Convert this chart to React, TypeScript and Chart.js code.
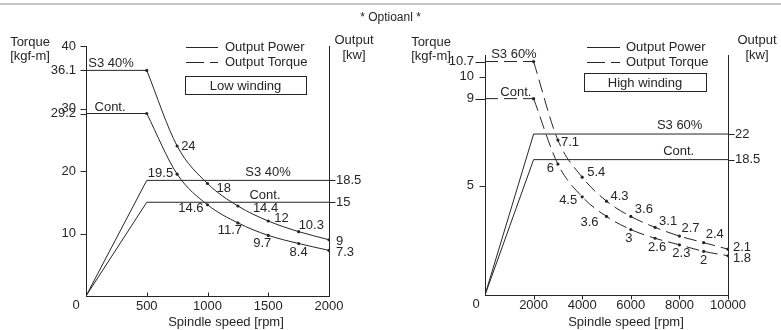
import React, { useEffect, useRef } from "react";
import { Chart, registerables } from "chart.js";

Chart.register(...registerables);

const FAMILY = '"Liberation Sans", Arial, Helvetica, sans-serif';
const INK = "#262626";

// ---------- Low winding (left panel) ----------
const lowSpeeds = [500, 750, 1000, 1250, 1500, 1750, 2000];
const lowTorqueS3 = [36.1, 24, 18, 14.4, 12, 10.3, 9];
const lowTorqueCont = [29.2, 19.5, 14.6, 11.7, 9.7, 8.4, 7.3];
const lowPowerSpeeds = [0, 500, 2000];
const lowPowerS3 = [0, 18.5, 18.5];
const lowPowerCont = [0, 15, 15];
const lowXTicks = [500, 1000, 1500, 2000];
const lowTorqueTicks = [10, 20, 29.2, 30, 36.1, 40];
const lowPowerTicks = [15, 18.5];

// ---------- High winding (right panel) ----------
const highSpeeds = [2000, 3000, 4000, 5000, 6000, 7000, 8000, 9000, 10000];
const highTorqueS3 = [10.7, 7.1, 5.4, 4.3, 3.6, 3.1, 2.7, 2.4, 2.1];
const highTorqueCont = [9, 6, 4.5, 3.6, 3, 2.6, 2.3, 2, 1.8];
const highPowerSpeeds = [0, 2000, 10000];
const highPowerS3 = [0, 22, 22];
const highPowerCont = [0, 18.5, 18.5];
const highXTicks = [2000, 4000, 6000, 8000, 10000];
const highTorqueTicks = [5, 9, 10, 10.7];
const highPowerTicks = [18.5, 22];

// ---------- label placement (align, dx, dy in px from the point) ----------
type Place = [string, number, number] | null;
const lowS3Places: Place[] = [null, ["l", 4, 0], ["l", 9, 5], ["l", 15, 2], ["l", 6, -3], ["l", 0, -6], ["l", 7, 2]];
const lowContPlaces: Place[] = [null, ["r", -4, -1], ["r", -4, 4], ["c", -8, 8], ["c", -6, 8], ["c", 0, 9], ["l", 7, 2]];
const highS3Places: Place[] = [null, ["l", 3, 2], ["l", 5, -5], ["l", 4, -5], ["l", 4, -7], ["l", 4, -6], ["l", 2, -8], ["l", 2, -8], ["l", 5, -2]];
const highContPlaces: Place[] = [null, ["r", -4, 4], ["r", -5, 4], ["r", -8, 6], ["c", -2, 9], ["c", 2, 9], ["c", 2, 9], ["c", 0, 9], ["l", 5, 3]];

interface TorqueSeries { values: number[]; places: Place[]; name: string; nameAt: number; nameDy: number }
interface PowerSeries { values: number[]; name: string; nameAt: number; nameDy: number }
interface Panel {
  w: number; h: number;
  area: { left: number; right: number; top: number; bottom: number };
  xMax: number; yMax: number; y2Max: number;
  xTicks: number[]; yTicks: number[]; y2Ticks: number[];
  longTicks: number[]; yPad: number; xTickDir: number;
  speeds: number[]; torque: TorqueSeries[]; torqueDash: number[];
  powerSpeeds: number[]; power: PowerSeries[];
  torqueTitleX: number; outputTitleX: number; xTitleX: number; originX: number;
  legend: { x1: number; x2: number; tx: number; y1: number; y2: number; box: [number, number, number, number]; text: string };
}

const lowPanel: Panel = {
  w: 390, h: 330,
  area: { left: 86, right: 329, top: 46, bottom: 296 },
  xMax: 2000, yMax: 40, y2Max: 40,
  xTicks: lowXTicks, yTicks: lowTorqueTicks, y2Ticks: lowPowerTicks,
  longTicks: [], yPad: 10, xTickDir: -1,
  speeds: lowSpeeds,
  torque: [
    { values: lowTorqueS3, places: lowS3Places, name: "S3 40%", nameAt: 206, nameDy: -7 },
    { values: lowTorqueCont, places: lowContPlaces, name: "Cont.", nameAt: 198, nameDy: -6 },
  ],
  torqueDash: [],
  powerSpeeds: lowPowerSpeeds,
  power: [
    { values: lowPowerS3, name: "S3 40%", nameAt: 1498, nameDy: -8 },
    { values: lowPowerCont, name: "Cont.", nameAt: 1473, nameDy: -7 },
  ],
  torqueTitleX: 30, outputTitleX: 354, xTitleX: 226, originX: 76,
  legend: { x1: 186, x2: 218, tx: 225, y1: 47, y2: 62, box: [185, 76, 306, 94], text: "Low winding" },
};

const highPanel: Panel = {
  w: 391, h: 330,
  area: { left: 95, right: 338, top: 55, bottom: 295 },
  xMax: 10000, yMax: 11, y2Max: 32.8,
  xTicks: highXTicks, yTicks: highTorqueTicks, y2Ticks: highPowerTicks,
  longTicks: [9, 10.7], yPad: 11, xTickDir: 1,
  speeds: highSpeeds,
  torque: [
    { values: highTorqueS3, places: highS3Places, name: "S3 60%", nameAt: 1190, nameDy: -7 },
    { values: highTorqueCont, places: highContPlaces, name: "Cont.", nameAt: 1270, nameDy: -6 },
  ],
  torqueDash: [13, 6],
  powerSpeeds: highPowerSpeeds,
  power: [
    { values: highPowerS3, name: "S3 60%", nameAt: 8010, nameDy: -9 },
    { values: highPowerCont, name: "Cont.", nameAt: 7970, nameDy: -8 },
  ],
  torqueTitleX: 41, outputTitleX: 367, xTitleX: 236, originX: 86,
  legend: { x1: 197, x2: 230, tx: 236, y1: 47, y2: 62, box: [194, 73, 316, 91], text: "High winding" },
};

function overlay(p: Panel) {
  return {
    id: "overlay",
    afterDraw(chart: any) {
      const ctx: CanvasRenderingContext2D = chart.ctx;
      const a = chart.chartArea;
      const sx = chart.scales.x, sy = chart.scales.y, sy2 = chart.scales.y2;
      const px = (v: number) => sx.getPixelForValue(v);
      const line = (x1: number, y1: number, x2: number, y2: number) => {
        ctx.beginPath(); ctx.moveTo(x1, y1); ctx.lineTo(x2, y2); ctx.stroke();
      };
      const text = (s: string, x: number, y: number, align: CanvasTextAlign = "center") => {
        ctx.textAlign = align; ctx.fillText(s, x, y);
      };
      ctx.save();
      ctx.strokeStyle = INK; ctx.fillStyle = INK; ctx.lineWidth = 1;
      ctx.font = `13px ${FAMILY}`; ctx.textBaseline = "middle";
      const L = Math.round(a.left) + 0.5, R = Math.round(a.right) + 0.5, B = Math.round(a.bottom) + 0.5;
      // tick marks
      p.yTicks.forEach((v) => {
        const yy = Math.round(sy.getPixelForValue(v)) + 0.5;
        const len = p.longTicks.includes(v) ? 10 : 6;
        line(L - len, yy, L, yy);
      });
      p.y2Ticks.forEach((v) => {
        const yy = Math.round(sy2.getPixelForValue(v)) + 0.5;
        line(R, yy, R + 6, yy);
      });
      p.xTicks.forEach((v) => {
        const xx = Math.round(px(v)) + 0.5;
        line(xx, B, xx, B + p.xTickDir * 4);
      });
      // series names on the flat parts
      p.torque.forEach((s) => text(s.name, px(s.nameAt), sy.getPixelForValue(s.values[0]) + s.nameDy));
      p.power.forEach((s) => text(s.name, px(s.nameAt), sy2.getPixelForValue(s.values[s.values.length - 1]) + s.nameDy));
      // value labels
      p.torque.forEach((s) => s.values.forEach((v, i) => {
        const pl = s.places[i];
        if (!pl) return;
        const [al, dx, dy] = pl;
        text(String(v), px(p.speeds[i]) + dx, sy.getPixelForValue(v) + dy, al === "l" ? "left" : al === "r" ? "right" : "center");
      }));
      // axis titles
      text("0", p.originX, B + 9);
      text("Torque", p.torqueTitleX, 42);
      text("[kgf-m]", p.torqueTitleX, 56);
      text("Output", p.outputTitleX, 40);
      text("[kw]", p.outputTitleX, 55);
      text("Spindle speed [rpm]", p.xTitleX, 322);
      // legend
      const lg = p.legend;
      line(lg.x1, lg.y1 + 0.5, lg.x2, lg.y1 + 0.5);
      ctx.setLineDash([18, 6]);
      line(lg.x1, lg.y2 + 0.5, lg.x2, lg.y2 + 0.5);
      ctx.setLineDash([]);
      text("Output Power", lg.tx, lg.y1, "left");
      text("Output Torque", lg.tx, lg.y2, "left");
      const [bx1, by1, bx2, by2] = lg.box;
      ctx.strokeRect(bx1 + 0.5, by1 + 0.5, bx2 - bx1, by2 - by1);
      text(lg.text, (bx1 + bx2) / 2, (by1 + by2) / 2 + 1);
      ctx.restore();
    },
  };
}

function buildConfig(p: Panel): any {
  const font = { family: FAMILY, size: 13 };
  const datasets: any[] = [];
  p.power.forEach((s) =>
    datasets.push({
      data: p.powerSpeeds.map((x, i) => ({ x, y: s.values[i] })),
      yAxisID: "y2", borderColor: INK, borderWidth: 1, pointRadius: 0, tension: 0, fill: false,
    })
  );
  p.torque.forEach((s) => {
    datasets.push({
      data: [{ x: 0, y: s.values[0] }, { x: p.speeds[0], y: s.values[0] }],
      yAxisID: "y", borderColor: INK, borderWidth: 1, borderDash: p.torqueDash, pointRadius: 0, tension: 0, fill: false,
    });
    datasets.push({
      data: p.speeds.map((x, i) => ({ x, y: s.values[i] })),
      yAxisID: "y", borderColor: INK, borderWidth: 1, borderDash: p.torqueDash,
      cubicInterpolationMode: "monotone", fill: false,
      pointRadius: 1.6, pointBorderWidth: 0, pointBackgroundColor: INK,
    });
  });
  const common = (ticks: number[]) => ({
    type: "linear",
    afterBuildTicks: (s: any) => { s.ticks = ticks.map((v) => ({ value: v })); },
    grid: { display: false, drawTicks: false },
    border: { display: true, color: INK, width: 1 },
  });
  return {
    type: "line",
    data: { datasets },
    options: {
      responsive: false, animation: false, devicePixelRatio: 1,
      layout: { padding: { top: p.area.top, left: 0, right: 0, bottom: 0 } },
      plugins: { legend: { display: false }, tooltip: { enabled: false }, title: { display: false } },
      scales: {
        x: {
          ...common(p.xTicks), min: 0, max: p.xMax, position: "bottom",
          afterFit: (s: any) => { s.height = p.h - p.area.bottom; },
          ticks: { autoSkip: false, maxRotation: 0, padding: 3, color: INK, font, callback: (v: any) => String(v) },
        },
        y: {
          ...common(p.yTicks), min: 0, max: p.yMax, position: "left",
          afterFit: (s: any) => { s.width = p.area.left; },
          ticks: { autoSkip: false, padding: p.yPad, color: INK, font, callback: (v: any) => String(v) },
        },
        y2: {
          ...common(p.y2Ticks), min: 0, max: p.y2Max, position: "right",
          afterFit: (s: any) => { s.width = p.w - p.area.right; },
          ticks: { autoSkip: false, padding: 7, color: INK, font, callback: (v: any) => String(v) },
        },
      },
    },
    plugins: [overlay(p)],
  };
}

function PanelChart({ panel, left }: { panel: Panel; left: number }) {
  const ref = useRef<HTMLCanvasElement>(null);
  useEffect(() => {
    const chart = new Chart(ref.current as HTMLCanvasElement, buildConfig(panel));
    return () => chart.destroy();
  }, [panel]);
  return (
    <canvas
      ref={ref}
      width={panel.w}
      height={panel.h}
      style={{ position: "absolute", left, top: 0, width: panel.w, height: panel.h }}
    />
  );
}

export default function App() {
  return (
    <div style={{ position: "fixed", left: 0, top: 0, width: 781, height: 330, background: "#fff", overflow: "hidden" }}>
      <div style={{ position: "absolute", left: 0, top: 3, width: 781, height: 2, background: "#c6c6c6" }} />
      <PanelChart panel={lowPanel} left={0} />
      <PanelChart panel={highPanel} left={390} />
      <div
        style={{
          position: "absolute", left: 0, top: 10, width: 781, textAlign: "center",
          font: `12px ${FAMILY}`, lineHeight: "14px", color: INK,
        }}
      >
        * Optioanl *
      </div>
    </div>
  );
}
